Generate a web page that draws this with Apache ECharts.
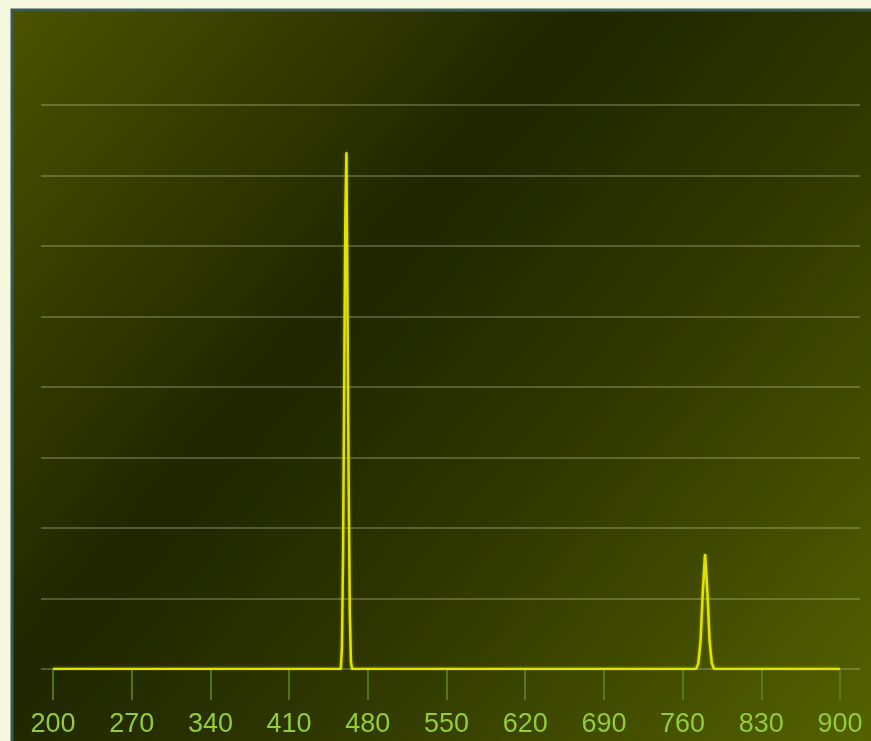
<!DOCTYPE html>
<html>
<head>
<meta charset="utf-8">
<script src="https://cdn.jsdelivr.net/npm/echarts@6/dist/echarts.min.js"></script>
<style>
html,body{margin:0;padding:0;background:#f5f7df;}
#chart{width:871px;height:741px;}
</style>
</head>
<body>
<div id="chart"></div>
<script>
// Wavelength (nm) sample points
var wavelengths = [200, 456, 457, 458, 459, 460, 461, 462, 463, 464, 465, 466,
                   772, 774, 776, 778, 780, 782, 784, 786, 788, 900];
// Intensity values (arbitrary units, gridline spacing = 1)
var intensities = [0, 0, 0.3, 1.6, 4.0, 6.4, 7.33, 5.0, 2.6, 0.8, 0.1, 0,
                   0, 0.08, 0.4, 1.1, 1.63, 1.1, 0.4, 0.08, 0, 0];
// X tick range
var xMin = 200, xMax = 900, xStep = 70;
var yMin = 0, yMax = 8, yStep = 1;

var seriesData = wavelengths.map(function (w, i) { return [w, intensities[i]]; });

var chart = echarts.init(document.getElementById('chart'), null, {renderer: 'canvas'});
chart.setOption({
  backgroundColor: '#f5f7df',
  animation: false,
  graphic: [{
    type: 'rect',
    z: -10,
    silent: true,
    shape: {x: 12, y: 10, width: 872, height: 745},
    style: {
      fill: {
        type: 'linear', x: 0, y: 0, x2: 1, y2: 1,
        colorStops: [
          {offset: 0, color: '#4b5300'},
          {offset: 0.38, color: '#1f2600'},
          {offset: 0.58, color: '#2c3400'},
          {offset: 1, color: '#566400'}
        ]
      },
      stroke: '#3a5a55',
      lineWidth: 3
    }
  }],
  grid: [
    {left: 41, right: 11, top: 105, bottom: 72},
    {left: 53, right: 31, top: 105, bottom: 72}
  ],
  xAxis: [
    {gridIndex: 0, type: 'value', min: 0, max: 1, show: false},
    {
      gridIndex: 1, type: 'value', min: xMin, max: xMax, interval: xStep,
      axisLine: {show: false},
      axisTick: {show: true, length: 31, lineStyle: {color: '#5f8a1c', width: 1.5}},
      splitLine: {show: false},
      axisLabel: {
        color: '#92cc3c', fontSize: 27, fontFamily: 'Liberation Sans, Arial, sans-serif',
        margin: 42, showMinLabel: true, showMaxLabel: true
      }
    }
  ],
  yAxis: [
    {
      gridIndex: 0, type: 'value', min: yMin, max: yMax, interval: yStep,
      axisLine: {show: false}, axisTick: {show: false}, axisLabel: {show: false},
      splitLine: {show: true, lineStyle: {color: 'rgba(215,215,160,0.38)', width: 1.6}}
    },
    {
      gridIndex: 1, type: 'value', min: yMin, max: yMax, interval: yStep,
      show: false, splitLine: {show: false}
    }
  ],
  series: [{
    type: 'line',
    xAxisIndex: 1, yAxisIndex: 1,
    data: seriesData,
    showSymbol: false,
    symbol: 'none',
    lineStyle: {color: '#e2e200', width: 2.5, shadowColor: 'rgba(230,230,0,0.5)', shadowBlur: 3},
    z: 5
  }]
});
</script>
</body>
</html>
